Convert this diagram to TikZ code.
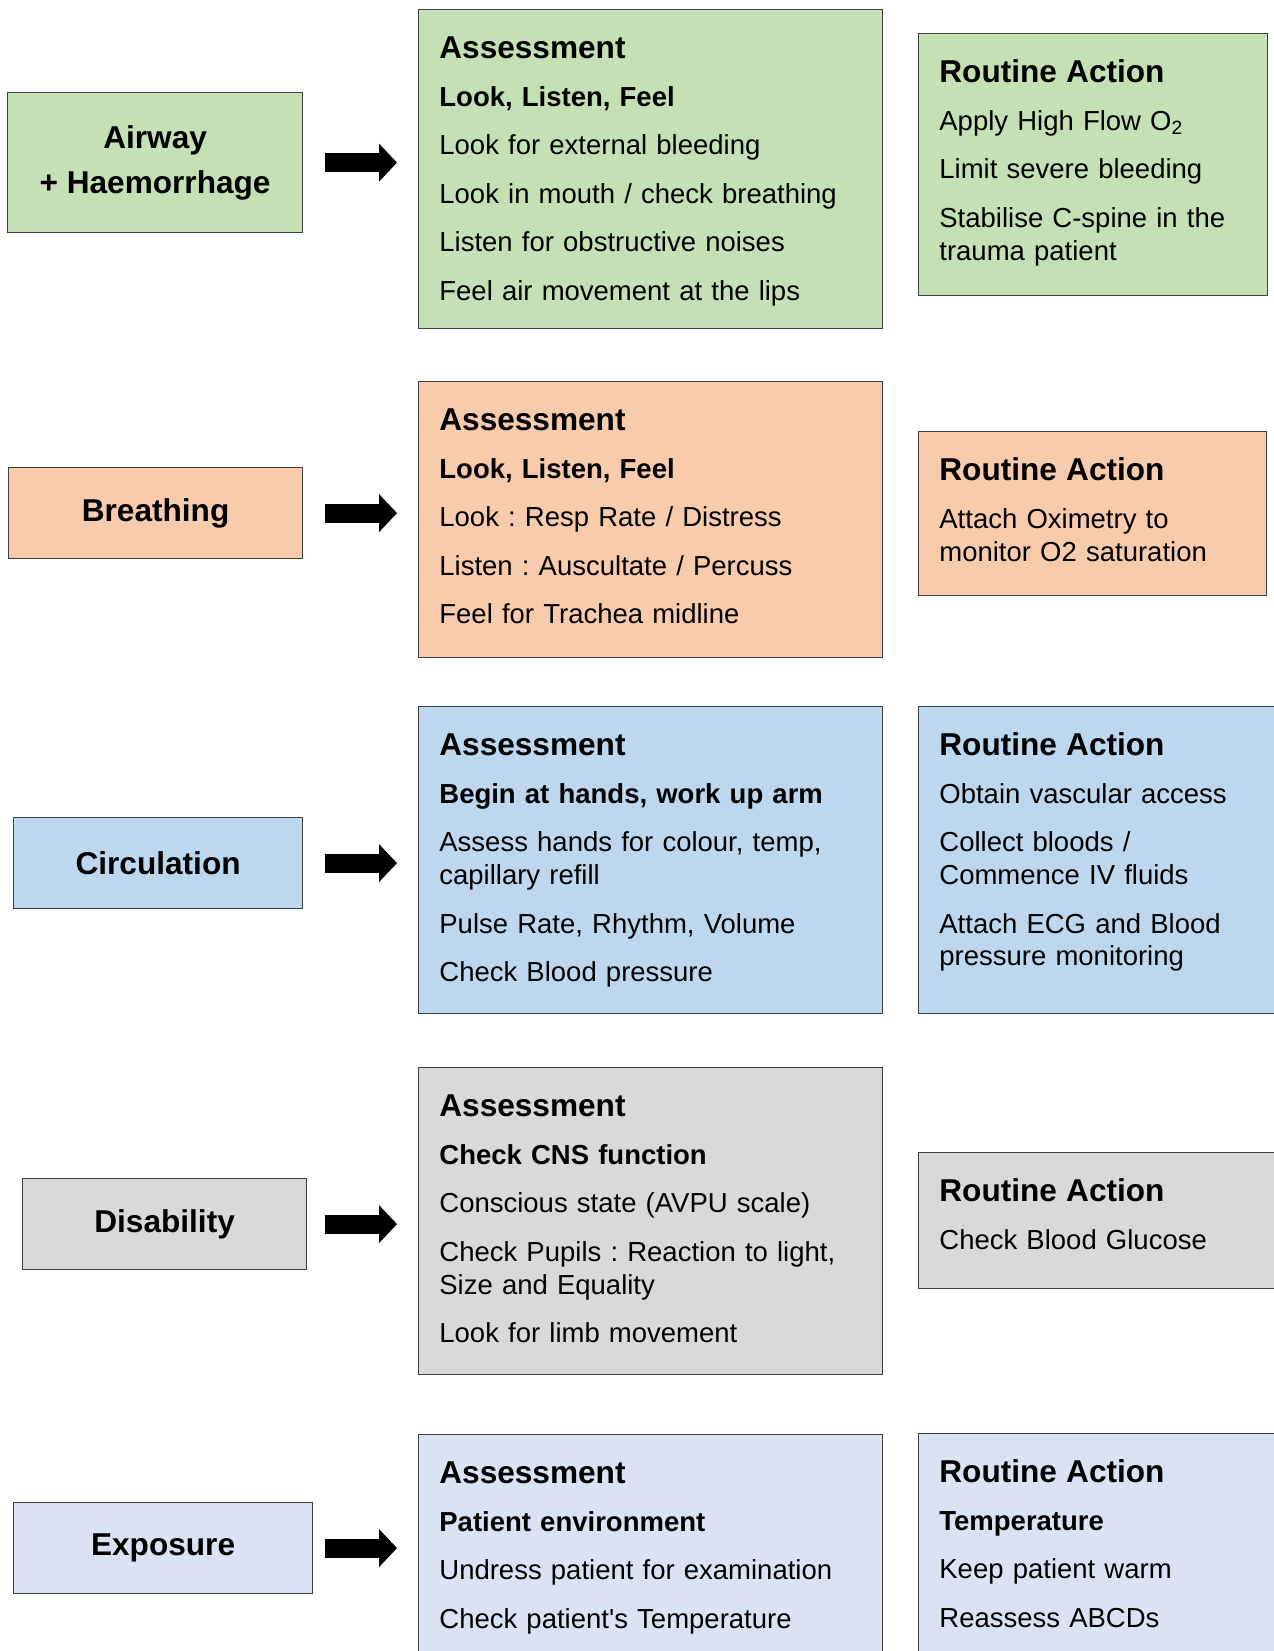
\documentclass[tikz,border=0pt]{standalone}
\usepackage{fontspec}
\setmainfont{Liberation Sans}
\usetikzlibrary{arrows.meta,calc}
\definecolor{airgreen}{RGB}{197,224,180}
\definecolor{brthorange}{RGB}{248,203,173}
\definecolor{circblue}{RGB}{189,215,238}
\definecolor{disgray}{RGB}{217,217,217}
\definecolor{expolav}{RGB}{218,227,243}
\frenchspacing
\newcommand{\hd}[1]{{\fontsize{15.8}{16.5}\selectfont\bfseries #1}}
\newcommand{\nxt}{\\[7.8pt]}
\tikzset{
  stagebox/.style={rectangle, draw=black!75, line width=0.6pt, fill=#1,
                   inner sep=0pt, anchor=north west, align=center,
                   font=\fontsize{15.8}{22.5}\selectfont\bfseries},
  infobox/.style={rectangle, draw=black!75, line width=0.6pt, fill=#1,
                  inner sep=0pt, anchor=north west},
  infotext/.style={anchor=base west, inner sep=0pt, text width=#1, align=left,
                   font=\fontsize{13.75}{16.4}\selectfont},
  infotext/.default=240pt,
  fatarrow/.style={line width=9.5pt,
                   -{Triangle[length=9pt,width=19pt,line width=0pt]}},
}
\begin{document}
\begin{tikzpicture}[x=0.5pt,y=-0.5pt]
  \useasboundingbox (0,0) rectangle (1274,1651);

  % Airway + Haemorrhage
  \node[stagebox=airgreen, minimum width=147.5pt, minimum height=70pt] (air) at (7,92) {Airway\\+ Haemorrhage};
  \node[infobox=airgreen, minimum width=232pt, minimum height=159.5pt] (assA) at (418,9) {};
  \node[infobox=airgreen, minimum width=174.5pt, minimum height=131pt] (actA) at (918,33) {};
  \node[infotext] (assAtxt) at ($(assA.north west)+(21,49)$) {\hd{Assessment}\nxt
    \textbf{Look, Listen, Feel}\nxt
    Look for external bleeding\nxt
    Look in mouth / check breathing\nxt
    Listen for obstructive noises\nxt
    Feel air movement at the lips};
  \node[infotext] (actAtxt) at ($(actA.north west)+(21,49)$) {\hd{Routine Action}\nxt
    Apply High Flow O\textsubscript{2}\nxt
    Limit severe bleeding\nxt
    Stabilise C-spine in the\\
    trauma patient};

  % Breathing
  \node[stagebox=brthorange, minimum width=147pt, minimum height=45.5pt] (brth) at (8,467) {Breathing};
  \node[infobox=brthorange, minimum width=232pt, minimum height=138pt] (assB) at (418,381) {};
  \node[infobox=brthorange, minimum width=174pt, minimum height=82pt] (actB) at (918,431) {};
  \node[infotext] (assBtxt) at ($(assB.north west)+(21,49)$) {\hd{Assessment}\nxt
    \textbf{Look, Listen, Feel}\nxt
    Look : Resp Rate / Distress\nxt
    Listen : Auscultate / Percuss\nxt
    Feel for Trachea midline};
  \node[infotext] (actBtxt) at ($(actB.north west)+(21,49)$) {\hd{Routine Action}\nxt
    Attach Oximetry to\\
    monitor O2 saturation};

  % Circulation
  \node[stagebox=circblue, minimum width=144.5pt, minimum height=45.5pt] (circ) at (13,817) {Circulation};
  \node[infobox=circblue, minimum width=232pt, minimum height=153.5pt] (assC) at (418,706) {};
  \node[infobox=circblue, minimum width=190pt, minimum height=153.5pt] (actC) at (918,706) {};
  \node[infotext] (assCtxt) at ($(assC.north west)+(21,49)$) {\hd{Assessment}\nxt
    \textbf{Begin at hands, work up arm}\nxt
    Assess hands for colour, temp,\\
    capillary refill\nxt
    Pulse Rate, Rhythm, Volume\nxt
    Check Blood pressure};
  \node[infotext] (actCtxt) at ($(actC.north west)+(21,49)$) {\hd{Routine Action}\nxt
    Obtain vascular access\nxt
    Collect bloods /\\
    Commence IV fluids\nxt
    Attach ECG and Blood\\
    pressure monitoring};

  % Disability
  \node[stagebox=disgray, minimum width=142pt, minimum height=45.5pt] (disab) at (22,1178) {Disability};
  \node[infobox=disgray, minimum width=232pt, minimum height=153.5pt] (assD) at (418,1067) {};
  \node[infobox=disgray, minimum width=190pt, minimum height=68pt] (actD) at (918,1152) {};
  \node[infotext] (assDtxt) at ($(assD.north west)+(21,49)$) {\hd{Assessment}\nxt
    \textbf{Check CNS function}\nxt
    Conscious state (AVPU scale)\nxt
    Check Pupils : Reaction to light,\\
    Size and Equality\nxt
    Look for limb movement};
  \node[infotext] (actDtxt) at ($(actD.north west)+(21,49)$) {\hd{Routine Action}\nxt
    Check Blood Glucose};

  % Exposure
  \node[stagebox=expolav, minimum width=149.5pt, minimum height=45.5pt] (expo) at (13,1502) {Exposure};
  \node[infobox=expolav, minimum width=232pt, minimum height=140pt] (assE) at (418,1434) {};
  \node[infobox=expolav, minimum width=190pt, minimum height=140pt] (actE) at (918,1433) {};
  \node[infotext] (assEtxt) at ($(assE.north west)+(21,49)$) {\hd{Assessment}\nxt
    \textbf{Patient environment}\nxt
    Undress patient for examination\nxt
    Check patient\textquotesingle s Temperature};
  \node[infotext] (actEtxt) at ($(actE.north west)+(21,49)$) {\hd{Routine Action}\nxt
    \textbf{Temperature}\nxt
    Keep patient warm\nxt
    Reassess ABCDs};

  % block arrows stage -> assessment
  \foreach \stg/\asm in {air/assA, brth/assB, circ/assC, disab/assD, expo/assE}
    \draw[fatarrow] ($(\asm.west |- \stg.east)+(-93,0)$) -- ($(\asm.west |- \stg.east)+(-21,0)$);
\end{tikzpicture}
\end{document}
